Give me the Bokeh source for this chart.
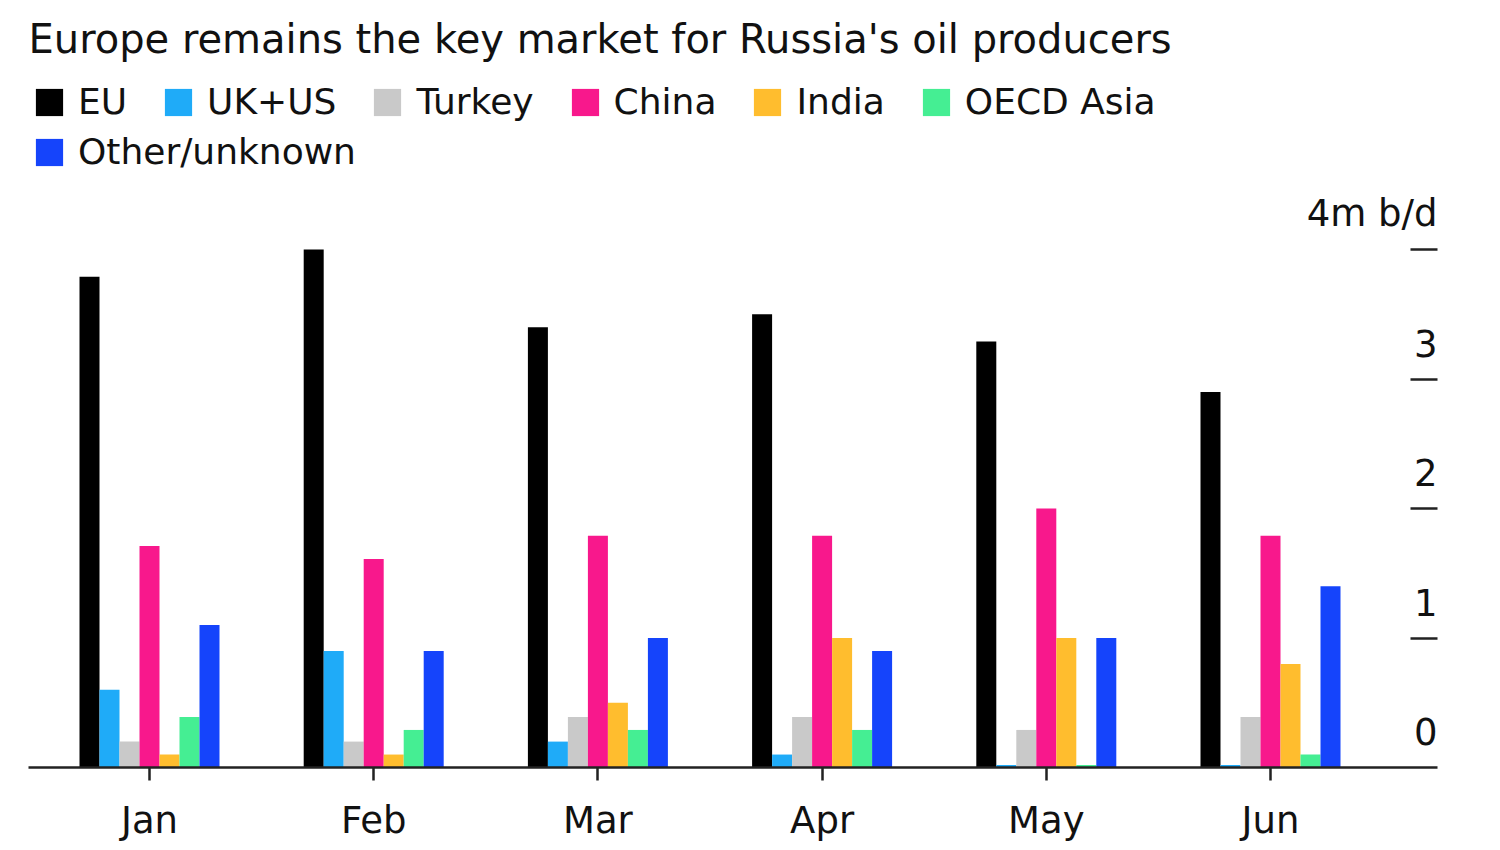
from bokeh.plotting import figure
from bokeh.models import (ColumnDataSource, FixedTicker, LinearAxis, Legend, LegendItem, Range1d)
from bokeh.transform import dodge
from bokeh.core.properties import value
from bokeh.embed import file_html
from bokeh.resources import INLINE

title = "Europe remains the key market for Russia's oil producers"
months = ["Jan", "Feb", "Mar", "Apr", "May", "Jun"]
series = ["EU", "UK+US", "Turkey", "China", "India", "OECD Asia", "Other/unknown"]
colors = ["#000000", "#1fabf8", "#c9c9c9", "#f8188c", "#ffbd2e", "#45ee93", "#1544fb"]

eu = [3.79, 4.00, 3.40, 3.50, 3.29, 2.90]
uk_us = [0.60, 0.90, 0.20, 0.10, 0.02, 0.02]
turkey = [0.20, 0.20, 0.39, 0.39, 0.29, 0.39]
china = [1.71, 1.61, 1.79, 1.79, 2.00, 1.79]
india = [0.10, 0.10, 0.50, 1.00, 1.00, 0.80]
oecd_asia = [0.39, 0.29, 0.29, 0.29, 0.02, 0.10]
other = [1.10, 0.90, 1.00, 0.90, 1.00, 1.40]

y_ticks = [0, 1, 2, 3, 4]
y_labels = ["0", "1", "2", "3", "4m b/d"]

FONT = "DejaVu Sans"
values_list = [eu, uk_us, turkey, china, india, oecd_asia, other]
keys = ["s%d" % i for i in range(len(series))]

data = {"x": list(range(len(months)))}
for k, v in zip(keys, values_list):
    data[k] = v
src = ColumnDataSource(data)

W, H = 1500, 850
LEFT, RIGHT, TOP, BOTTOM = 28, 63, 70, 83
px_per_unit = 129.5
frame_h = H - TOP - BOTTOM
px_per_x = 224.2
frame_w = W - LEFT - RIGHT
x0 = -(149 - 28) / px_per_x

p = figure(width=W, height=H, output_backend="svg", toolbar_location=None,
           x_range=Range1d(x0, x0 + frame_w / px_per_x),
           y_range=Range1d(0, frame_h / px_per_unit),
           y_axis_location=None, min_border_left=LEFT, min_border_right=RIGHT,
           min_border_top=TOP, min_border_bottom=BOTTOM)
p.title.text = title
p.title.text_font = FONT
p.title.text_font_size = "40px"
p.title.text_font_style = "normal"
p.title.text_color = "#111111"
p.title.align = "left"
p.title.standoff = 18
p.outline_line_color = None
p.xgrid.visible = False
p.ygrid.visible = False
p.background_fill_color = "white"
p.border_fill_color = "white"

bw = 20 / px_per_x
renderers = []
for i, (k, c) in enumerate(zip(keys, colors)):
    r = p.vbar(x=dodge("x", (i - 3) * bw, range=p.x_range), top=k, width=bw,
               source=src, fill_color=c, line_color=None)
    renderers.append(r)

xa = p.xaxis[0]
xa.ticker = FixedTicker(ticks=list(range(len(months))))
xa.major_label_overrides = {i: m for i, m in enumerate(months)}
xa.axis_line_color = "#222222"
xa.axis_line_width = 2.5
xa.major_tick_line_color = "#222222"
xa.major_tick_line_width = 2.5
xa.major_tick_out = 13
xa.major_tick_in = 0
xa.minor_tick_line_color = None
xa.major_label_text_font = FONT
xa.major_label_text_font_size = "37px"
xa.major_label_text_color = "#111111"
xa.major_label_standoff = 18

ya = LinearAxis(ticker=FixedTicker(ticks=y_ticks[1:]))
ya.axis_line_color = None
ya.major_tick_in = 27
ya.major_tick_out = 0
ya.major_tick_line_color = "#222222"
ya.major_tick_line_width = 2.5
ya.minor_tick_line_color = None
ya.major_label_text_font_size = "0px"
ya.major_label_text_color = None
p.add_layout(ya, "right")

lab_src = ColumnDataSource(dict(y=y_ticks, t=y_labels,
                                x=[p.x_range.end] * len(y_ticks)))
p.text(x="x", y="y", text="t", source=lab_src, text_align="right",
       text_baseline="middle", y_offset=-36, x_offset=0,
       text_font=value(FONT), text_font_size="37px", text_color="#111111")

def make_legend(idx, loc):
    lg = Legend(items=[LegendItem(label=series[i], renderers=[renderers[i]]) for i in idx],
                location=loc, orientation="horizontal",
                glyph_width=34, glyph_height=34, label_standoff=12, spacing=34,
                padding=0, margin=0, border_line_color=None,
                background_fill_alpha=0, label_text_font=FONT,
                label_text_font_size="36px", label_text_color="#111111")
    return lg

p.add_layout(make_legend(range(6), (4, frame_h - 52)), "center")
p.add_layout(make_legend([6], (4, frame_h - 102)), "center")

open("out.html", "w").write(file_html(p, INLINE))
